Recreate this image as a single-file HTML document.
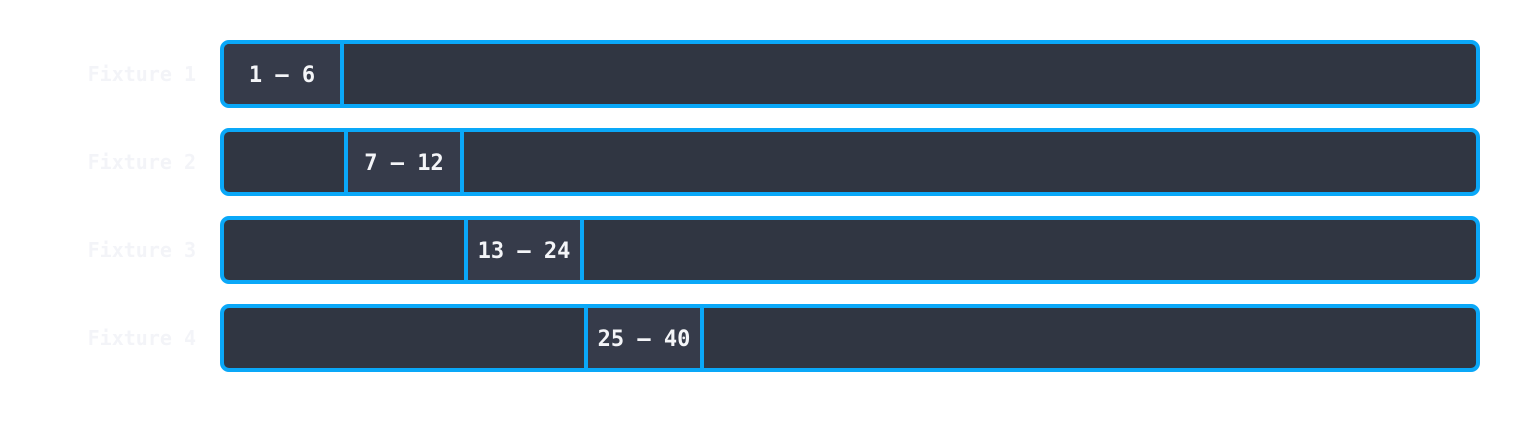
<!DOCTYPE html>
<html><head><style>
body{margin:0;width:1520px;height:432px;background:#fff;position:relative;overflow:hidden;font-family:"DejaVu Sans Mono","Liberation Mono",monospace;font-weight:bold}
.lbl{position:absolute;left:0;width:196px;text-align:right;font-size:20px;color:#f3f4f8;line-height:22px}
.bar{position:absolute;left:220px;width:1252px;height:60px;border:4px solid #0aa8f8;border-radius:9px;background:#303642;overflow:hidden}
.seg{position:absolute;top:0;height:60px;background:#363b4a;border-left:4px solid #0aa8f8;border-right:4px solid #0aa8f8;color:#f4f5f8;font-size:22px;line-height:63px;text-align:center}
</style></head><body>
<div class="lbl" style="top:63px">Fixture 1</div>
<div class="lbl" style="top:151px">Fixture 2</div>
<div class="lbl" style="top:239px">Fixture 3</div>
<div class="lbl" style="top:327px">Fixture 4</div>
<div class="bar" style="top:40px"><div class="seg" style="left:-4px;width:116px">1 – 6</div></div>
<div class="bar" style="top:128px"><div class="seg" style="left:120px;width:112px">7 – 12</div></div>
<div class="bar" style="top:216px"><div class="seg" style="left:240px;width:112px">13 – 24</div></div>
<div class="bar" style="top:304px"><div class="seg" style="left:360px;width:112px">25 – 40</div></div>
</body></html>
